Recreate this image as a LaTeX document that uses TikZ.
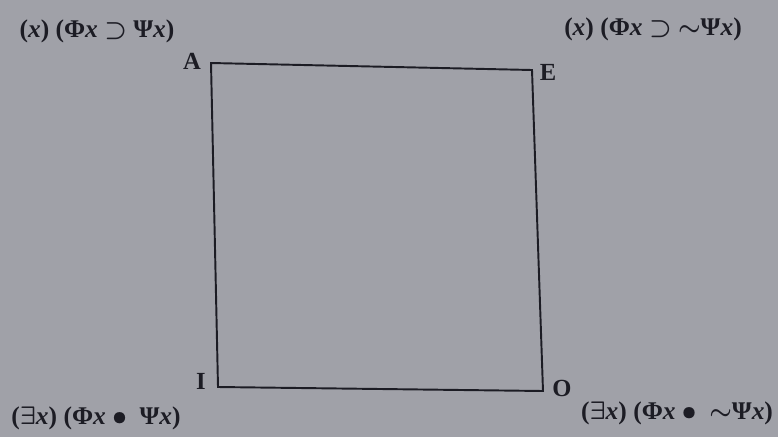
\documentclass[tikz,border=0pt]{standalone}
\usepackage{amsmath,amssymb,bm}
\usepackage{fontspec}
\setmainfont{Liberation Serif}
\usetikzlibrary{positioning}
\definecolor{pagegray}{RGB}{160,161,168}
\definecolor{inkgray}{RGB}{28,28,36}
\newcommand{\va}{\textit{x}}

\begin{document}
\begin{tikzpicture}[x=0.02cm,y=-0.02cm,
corner/.style={font=\bfseries\fontsize{14}{16}\selectfont, text=inkgray, inner sep=0pt},
formula/.style={font=\bfseries\fontsize{14.5}{16}\selectfont, text=inkgray, inner sep=0pt}]
\fill[pagegray] (0,0) rectangle (778,437);

\coordinate (A) at (211,63);
\coordinate (E) at (532,70);
\coordinate (O) at (543,391);
\coordinate (I) at (218,387);
\draw[inkgray, line width=1.1pt] (A) -- (E) -- (O) -- (I) -- cycle;

\node[corner] (lA) at (192,61) {A};
\node[corner] (lE) at (548,72) {E};
\node[corner] (lI) at (201,381) {I};
\node[corner] (lO) at (562,388) {O};

\node[formula] (fA) at (97,31) {(\va) (Φ\va\ $\bm{\supset}$ Ψ\va)};
\node[formula] (fE) at (653,29) {(\va) (Φ\va\ $\bm{\supset}$ $\bm{\sim}$Ψ\va)};
\node[formula] (fI) at (96,418) {($\bm{\exists}$\va) (Φ\va\ $\bm{\bullet}$\ \ Ψ\va)};
\node[formula] (fO) at (677,413) {($\bm{\exists}$\va) (Φ\va\ $\bm{\bullet}$\ \ $\bm{\sim}$Ψ\va)};
\end{tikzpicture}
\end{document}
